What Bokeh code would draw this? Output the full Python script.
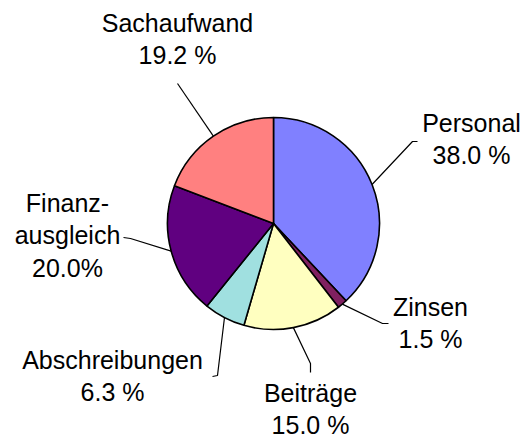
import numpy as np
from bokeh.plotting import figure
from bokeh.models import Range1d, ColumnDataSource
from bokeh.embed import file_html
from bokeh.resources import INLINE
from bokeh.core.properties import value

# ---- data ----
categories = ["Personal", "Zinsen", "Beiträge", "Abschreibungen", "Finanzausgleich", "Sachaufwand"]
shares = [38.0, 1.5, 15.0, 6.3, 20.0, 19.2]
share_labels = ["38.0 %", "1.5 %", "15.0 %", "6.3 %", "20.0%", "19.2 %"]
name_lines = [["Personal"], ["Zinsen"], ["Beiträge"], ["Abschreibungen"],
              ["Finanz-", "ausgleich"], ["Sachaufwand"]]
colors = ["#8080FF", "#802060", "#FFFFC0", "#A0E0E0", "#600080", "#FF8080"]

# ---- layout (screen pixels of the picture) ----
W, H = 524, 436
def sx(X): return X
def sy(Y): return H - Y

cx, cy, r = sx(273), sy(223), 106
label_pos = [(471, 124), (430, 308), (310, 394), (112, 361), (67, 204), (177, 24)]
line_step = 32.5
baseline_shift = -2
leader_elbows = [[(417, 141), (412, 141)], [(388, 323), (382, 323)],
                 [(310, 372), (310, 363)], [(212, 376), (217, 375)],
                 [(123, 237), (130, 238)], [(177, 83)]]

vals = np.array(shares, dtype=float)
frac = vals / vals.sum()
cum = np.concatenate([[0.0], np.cumsum(frac)])
start = np.pi / 2 - 2 * np.pi * cum[:-1]
end = np.pi / 2 - 2 * np.pi * cum[1:]
mid = (start + end) / 2

p = figure(width=W, height=H, x_range=Range1d(0, W), y_range=Range1d(0, H),
           output_backend="svg", toolbar_location=None, min_border=0,
           x_axis_type=None, y_axis_type=None)
p.grid.visible = False
p.outline_line_color = None
p.background_fill_color = "white"
p.border_fill_color = "white"

# leader lines
xs, ys = [], []
for i in range(len(categories)):
    pts = [(sx(a), sy(b)) for a, b in leader_elbows[i]]
    pts.append((cx + r * np.cos(mid[i]), cy + r * np.sin(mid[i])))
    xs.append([q[0] for q in pts])
    ys.append([q[1] for q in pts])
p.multi_line(xs=xs, ys=ys, line_color="black", line_width=1.2)

src = ColumnDataSource(dict(start=start, end=end, color=colors, cat=categories))
p.wedge(x=cx, y=cy, radius=r, start_angle="start", end_angle="end",
        direction="clock", fill_color="color", line_color="black",
        line_width=1.6, source=src)

# labels
tx, ty, tt = [], [], []
for i in range(len(categories)):
    lx, ly = label_pos[i]
    lines = name_lines[i] + [share_labels[i]]
    for k, t in enumerate(lines):
        tx.append(sx(lx))
        ty.append(sy(ly + k * line_step + baseline_shift))
        tt.append(t)
p.text(x=tx, y=ty, text=tt, text_font=value("Liberation Sans"),
       text_font_size="25px", text_align="center", text_baseline="alphabetic",
       text_color="black")

open("out.html", "w").write(file_html(p, INLINE))
